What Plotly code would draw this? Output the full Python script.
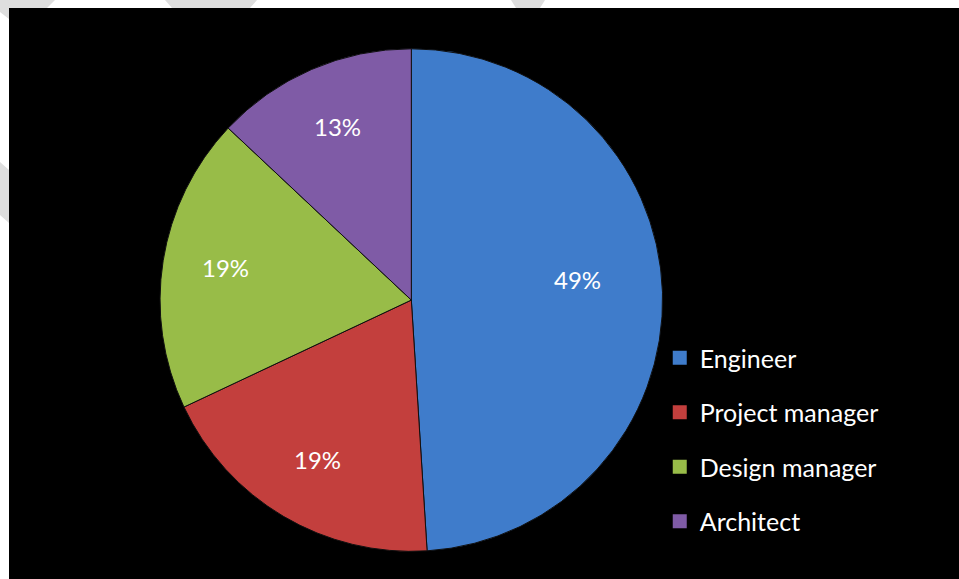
import math
import plotly.graph_objects as go

categories = ["Engineer", "Project manager", "Design manager", "Architect"]
values = [49, 19, 19, 13]
colors = ["#3F7CCB", "#C33F3D", "#98BC48", "#7F5BA6"]

# layout / style settings
W, H = 959, 579
ML, MT = 9, 8
PW, PH = W - ML, H - MT
dom_x = [0.159, 0.688]
dom_y = [0.047, 0.930]
label_radius = [0.66, 0.73, 0.75, 0.74]
label_yshift = [15, -2, 3, 3]
font_family = "Lato"

fig = go.Figure()
fig.add_trace(go.Pie(
    labels=categories,
    values=values,
    sort=False,
    direction="clockwise",
    rotation=0,
    marker=dict(colors=colors, line=dict(color="#101010", width=1)),
    textinfo="none",
    domain=dict(x=dom_x, y=dom_y),
    hoverinfo="label+percent",
    showlegend=False,
))

# legend entries (one per category) so the legend spacing can be set
for i, (cat, col) in enumerate(zip(categories, colors)):
    fig.add_trace(go.Scatter(
        x=[None], y=[None], mode="markers", name=cat,
        marker=dict(symbol="square", size=14, color=col),
        legendgroup=f"g{i}", showlegend=True, hoverinfo="skip",
    ))

# percentage labels placed at the slice mid-angles
total = sum(values)
cx = (dom_x[0] + dom_x[1]) / 2
cy = (dom_y[0] + dom_y[1]) / 2
r_px = min((dom_x[1] - dom_x[0]) * PW, (dom_y[1] - dom_y[0]) * PH) / 2
annotations = []
cum = 0.0
for v, rf, ys in zip(values, label_radius, label_yshift):
    mid = (cum + v / 2) / total * 2 * math.pi
    cum += v
    dx = math.sin(mid) * r_px * rf
    dy = math.cos(mid) * r_px * rf
    annotations.append(dict(
        x=cx + dx / PW, y=cy + dy / PH, xref="paper", yref="paper",
        text=f"{round(v / total * 100)}%", showarrow=False,
        font=dict(family=font_family, size=24, color="white"),
        xanchor="center", yanchor="middle", yshift=ys,
    ))

def px(x, y):
    return (x - ML) / PW, (H - y) / PH

def poly(pts):
    p = [px(x, y) for x, y in pts]
    return "M " + " L ".join(f"{a},{b}" for a, b in p) + " Z"

stripe_polys = [
    [(0, 0), (55, 0), (47, 8), (0, 8)],
    [(165, 0), (257, 0), (250, 8), (172, 8)],
    [(511, 0), (545, 0), (540, 8), (516, 8)],
    [(0, 0), (9, 0), (9, 19), (0, 12)],
    [(0, 162), (9, 170), (9, 223), (0, 215)],
]
shapes = [dict(type="path", xref="paper", yref="paper", path=poly(p),
               fillcolor="#DEDEDE", line=dict(width=0), layer="below")
          for p in stripe_polys]
shapes.append(dict(type="rect", xref="paper", yref="paper", x0=0, x1=1, y0=0, y1=1,
                   fillcolor="black", line=dict(width=0), layer="below"))

fig.update_layout(
    width=W, height=H,
    margin=dict(l=ML, r=0, t=MT, b=0),
    paper_bgcolor="white",
    plot_bgcolor="black",
    showlegend=True,
    xaxis=dict(visible=False),
    yaxis=dict(visible=False),
    legend=dict(
        x=0.685, y=0.4273, xanchor="left", yanchor="top",
        font=dict(family=font_family, size=25, color="white"),
        bgcolor="rgba(0,0,0,0)",
        traceorder="grouped",
        tracegroupgap=19,
        itemclick=False, itemdoubleclick=False,
    ),
    annotations=annotations,
    shapes=shapes,
)

fig.write_html("out.html")
